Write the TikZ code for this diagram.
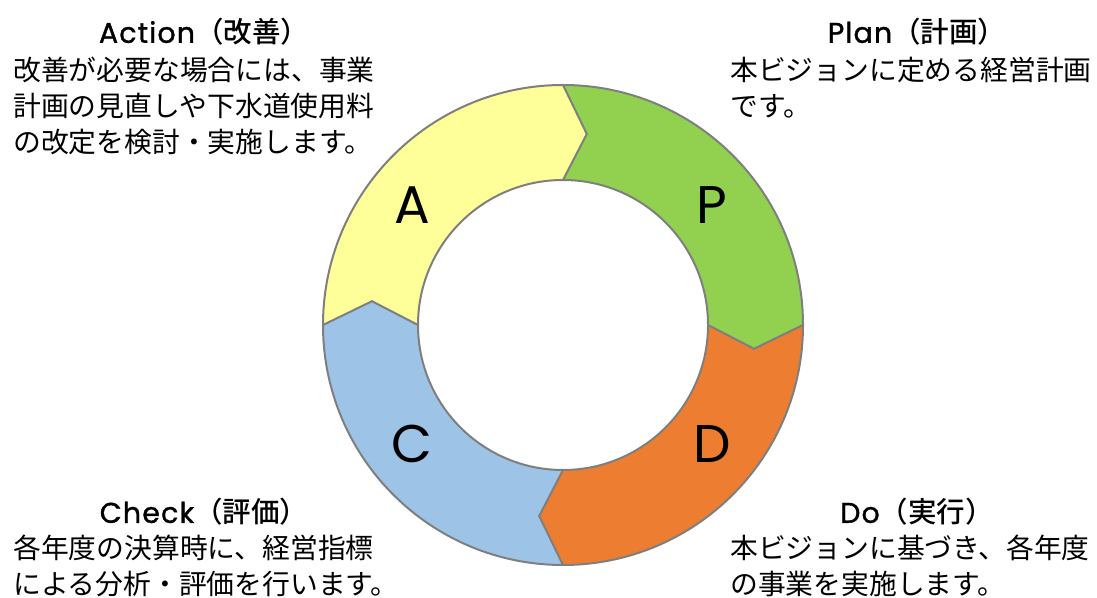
\documentclass[tikz,border=0pt]{standalone}
\usepackage{fontspec}
\setmainfont{Noto Sans CJK JP}
\newfontfamily\latinfont{Poppins}
\newfontfamily\latintitle[FakeBold=1.2, LetterSpace=4]{Poppins}
\newfontfamily\titlecjk{Noto Sans CJK JP Medium}
\begin{document}
\begin{tikzpicture}[x=1pt,y=1pt,
  seg/.style={draw=segline, line width=2pt, line join=miter},
  letter/.style={font=\latinfont\fontsize{53}{60}\selectfont},
  title/.style={font=\fontsize{28.5}{32}\selectfont, inner sep=0pt},
  body/.style={font=\fontsize{27.8}{36}\selectfont, align=left, anchor=west, inner sep=0pt}]
\definecolor{segline}{HTML}{7F7F7F}
\definecolor{cy}{HTML}{FFFF99}
\definecolor{cg}{HTML}{92D050}
\definecolor{co}{HTML}{ED7D31}
\definecolor{cb}{HTML}{9DC3E6}
\useasboundingbox (0,0) rectangle (1097,597);
\def\Ro{240}\def\Ri{145}\def\Rm{192.5}\def\off{7.1}
% segments: tail angle t, head angle t-90
\begin{scope}[shift={(563,272)}]
\foreach \t/\c in {90/cg, 0/co, -90/cb, 180/cy}{
  \pgfmathsetmacro{\h}{\t-90}
  \pgfmathsetmacro{\hm}{\t-90-\off}
  \pgfmathsetmacro{\tm}{\t-\off}
  \fill[\c] (\t:\Ro) arc[start angle=\t, end angle=\h, radius=\Ro] -- (\hm:\Rm) -- (\h:\Ri)
     arc[start angle=\h, end angle=\t, radius=\Ri] -- (\tm:\Rm) -- cycle;
}
\foreach \t in {90, 0, -90, 180}{
  \pgfmathsetmacro{\tm}{\t-\off}
  \draw[seg] (\t:\Ro) -- (\tm:\Rm) -- (\t:\Ri);
}
\draw[seg] (0,0) circle[radius=\Ro];
\draw[seg] (0,0) circle[radius=\Ri];
\end{scope}
\node[letter] (lA) at (412,392) {A};
\node[letter] (lP) at (712,392) {P};
\node[letter] (lC) at (412,153) {C};
\node[letter] (lD) at (712,153) {D};
\node[title] (tA) at (204,565) {{\latintitle Action}{\titlecjk （改善）}};
\node[title] (tP) at (917,565) {{\latintitle Plan}{\titlecjk （計画）}};
\node[title] (tC) at (204,85) {{\latintitle Check}{\titlecjk （評価）}};
\node[title] (tD) at (917,85) {{\latintitle Do}{\titlecjk （実行）}};
\node[body] (bA) at (13,491) {改善が必要な場合には、事業\\計画の見直しや下水道使用料\\の改定を検討・実施します。};
\node[body] (bP) at (730,509) {本ビジョンに定める経営計画\\です。};
\node[body] (bC) at (13,31.5) {各年度の決算時に、経営指標\\による分析・評価を行います。};
\node[body] (bD) at (730,31.5) {本ビジョンに基づき、各年度\\の事業を実施します。};
\end{tikzpicture}
\end{document}
